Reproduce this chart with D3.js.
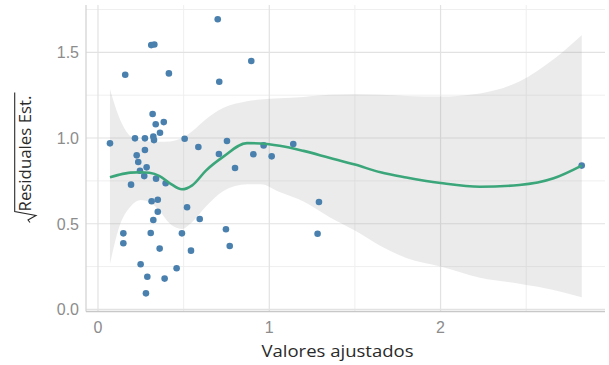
<!DOCTYPE html>
<html><head><meta charset="utf-8">
<script src="https://cdn.jsdelivr.net/npm/d3@7"></script>
<style>body{margin:0;background:#fff}svg{display:block}</style>
</head><body>
<svg id="c" width="609" height="365"></svg>
<script>
// fitted values (x) and sqrt standardized residuals (y)
const pointX = [0.699,0.311,0.329,0.159,0.414,0.708,0.895,0.319,0.337,0.384,0.362,0.070,0.216,0.274,0.323,0.327,0.506,0.586,0.753,0.706,0.907,0.967,1.014,1.140,0.226,0.274,0.235,0.245,0.284,0.270,0.339,0.395,0.193,0.800,0.313,0.349,0.349,0.323,0.520,0.594,0.148,0.148,0.308,0.490,0.360,0.543,0.747,0.769,0.249,0.288,0.389,0.459,0.280,1.290,1.282,2.824];
const pointY = [1.693,1.542,1.546,1.369,1.377,1.328,1.449,1.140,1.080,1.093,1.031,0.969,0.998,0.998,1.008,0.988,0.996,0.948,0.983,0.907,0.905,0.957,0.893,0.965,0.899,0.930,0.860,0.809,0.829,0.778,0.763,0.736,0.728,0.825,0.631,0.640,0.570,0.522,0.596,0.528,0.444,0.386,0.446,0.444,0.355,0.343,0.468,0.370,0.264,0.191,0.180,0.240,0.094,0.627,0.442,0.839];
// smoother
const smoothX   = [0.07,0.12,0.19,0.25,0.30,0.36,0.42,0.49,0.55,0.63,0.73,0.87,0.95,1.06,1.20,1.35,1.50,1.65,1.80,2.00,2.23,2.46,2.66,2.824];
const smoothFit = [0.771,0.785,0.798,0.800,0.797,0.778,0.736,0.701,0.724,0.810,0.890,0.970,0.968,0.955,0.925,0.885,0.845,0.800,0.770,0.738,0.716,0.726,0.765,0.839];
const smoothLo  = [0.265,0.47,0.60,0.638,0.625,0.575,0.50,0.47,0.51,0.60,0.69,0.73,0.73,0.685,0.63,0.54,0.46,0.37,0.30,0.25,0.185,0.15,0.114,0.071];
const smoothHi  = [1.285,1.13,1.01,0.985,0.98,0.978,0.98,1.00,1.04,1.11,1.175,1.215,1.225,1.232,1.24,1.252,1.255,1.252,1.245,1.242,1.26,1.33,1.46,1.60];
const xTicks = [0,1,2], xLabels = ["0","1","2"];
const yTicks = [0,0.5,1,1.5], yLabels = ["0.0","0.5","1.0","1.5"];
const xMinor = [0.5,1.5,2.5], yMinor = [0.25,0.75,1.25,1.75];

const svg = d3.select("#c");
const L=86, R=605, T=5, B=311.5;
const x = d3.scaleLinear().domain([-0.07,2.96]).range([L,R]);
const y = d3.scaleLinear().domain([-0.012,1.776]).range([B,T]);

const g = svg.append("g");
// minor grid
g.selectAll(".mx").data(xMinor).join("line").attr("x1",d=>x(d)).attr("x2",d=>x(d)).attr("y1",T).attr("y2",B).attr("stroke","#efefef").attr("stroke-width",1);
g.selectAll(".my").data(yMinor).join("line").attr("y1",d=>y(d)).attr("y2",d=>y(d)).attr("x1",L).attr("x2",R).attr("stroke","#efefef").attr("stroke-width",1);
// major grid
g.selectAll(".Mx").data(xTicks).join("line").attr("x1",d=>x(d)).attr("x2",d=>x(d)).attr("y1",T).attr("y2",B).attr("stroke","#e2e2e2").attr("stroke-width",1.2);
g.selectAll(".My").data(yTicks).join("line").attr("y1",d=>y(d)).attr("y2",d=>y(d)).attr("x1",L).attr("x2",R).attr("stroke","#e2e2e2").attr("stroke-width",1.2);

// axis lines
svg.append("line").attr("x1",L).attr("x2",L).attr("y1",T).attr("y2",B).attr("stroke","#d4d4d4").attr("stroke-width",1.3);
svg.append("line").attr("x1",L).attr("x2",R).attr("y1",B).attr("y2",B).attr("stroke","#c8c8c8").attr("stroke-width",1.5);

// ribbon
const sm = smoothX.map((v,i)=>({x:v,f:smoothFit[i],lo:smoothLo[i],hi:smoothHi[i]}));
svg.append("path").datum(sm)
  .attr("d", d3.area().x(d=>x(d.x)).y0(d=>y(d.lo)).y1(d=>y(d.hi)).curve(d3.curveMonotoneX))
  .attr("fill","#999").attr("fill-opacity",0.2);
// points
const pts = pointX.map((v,i)=>({x:v,y:pointY[i]}));
svg.selectAll(".pt").data(pts).join("circle")
  .attr("cx",d=>x(d.x)).attr("cy",d=>y(d.y)).attr("r",3.3).attr("fill","#4a80ad");
// fit line
svg.append("path").datum(sm)
  .attr("d", d3.line().x(d=>x(d.x)).y(d=>y(d.f)).curve(d3.curveMonotoneX))
  .attr("fill","none").attr("stroke","#3aa67a").attr("stroke-width",2.6);

// tick labels
svg.selectAll(".xt").data(xTicks).join("text").attr("x",d=>x(d)).attr("y",333)
  .attr("text-anchor","middle").attr("font-family","Liberation Sans, Arial, sans-serif").attr("font-size",16).attr("fill","#8c8c8c")
  .text((d,i)=>xLabels[i]);
svg.selectAll(".yt").data(yTicks).join("text").attr("x",79).attr("y",d=>y(d)+5.8)
  .attr("text-anchor","end").attr("font-family","Liberation Sans, Arial, sans-serif").attr("font-size",16).attr("fill","#8c8c8c")
  .text((d,i)=>yLabels[i]);

// x title
svg.append("text").attr("x",261.5).attr("y",357)
  .attr("font-family","Open Sans, sans-serif").attr("font-size",16).attr("fill","#2a2a2a")
  .attr("textLength",152).attr("lengthAdjust","spacingAndGlyphs").text("Valores ajustados");

// y title with sqrt
const yt = svg.append("g").attr("transform","translate(31,211.5) rotate(-90)");
const tt = yt.append("text").attr("x",0).attr("y",0).attr("font-family","Open Sans, sans-serif").attr("font-size",16).attr("fill","#2a2a2a")
  .attr("textLength",116).attr("lengthAdjust","spacingAndGlyphs").text("Residuales Est.");
const len = 116;
yt.append("path").attr("d",`M -11,-1 L -8.5,-3 L -4,5 L 0,-16.3 L ${len+3},-16.3`)
  .attr("fill","none").attr("stroke","#2a2a2a").attr("stroke-width",1.1);
</script>
</body></html>
